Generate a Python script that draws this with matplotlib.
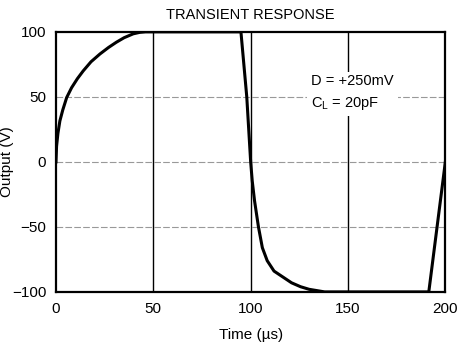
import matplotlib
matplotlib.use("Agg")
import matplotlib.pyplot as plt

plt.rcParams['font.family'] = ['Liberation Sans', 'DejaVu Sans']

# curve (time in us, output in V)
time_us = [0, 0.3, 1, 2, 3.5, 5.5, 8, 11, 14, 18, 22.6, 27, 31, 35, 39.7, 43, 46, 95,
           98, 100, 100.8, 102, 104, 106, 108.5, 112, 117, 121, 125.6, 130, 134, 138, 191.5, 200]
output_v = [0, 12, 22, 31.5, 40, 49.5, 57, 64, 70, 77, 83, 88, 92, 95.5, 98.5, 99.6, 100, 100,
            50, 0, -14.6, -30, -50, -66, -76, -84, -89, -93, -96, -98, -99, -100, -100, 0]

x_ticks = [0, 50, 100, 150, 200]
y_ticks = [-100, -50, 0, 50, 100]

fig = plt.figure(figsize=(4.57, 3.5), dpi=100)
ax = fig.add_axes([0.1225, 0.166, 0.852, 0.743])

for x in x_ticks[1:-1]:
    ax.axvline(x, color='black', lw=1.0, zorder=1)
for y in y_ticks[1:-1]:
    ax.axhline(y, color='#999999', lw=0.8, ls=(0, (6, 2)), zorder=1)

ax.plot(time_us, output_v, color='black', lw=2.2, zorder=3)

ax.set_xlim(0, 200)
ax.set_ylim(-100, 100)
ax.set_xticks(x_ticks)
ax.set_yticks(y_ticks)
ax.set_yticklabels(['\u2212100', '\u221250', '0', '50', '100'])
ax.tick_params(length=0, labelsize=11, pad=7)
for s in ax.spines.values():
    s.set_linewidth(1.6)

ax.set_xlabel('Time (\u00b5s)', fontsize=11, labelpad=9)
ax.set_ylabel('Output (V)', fontsize=11)
ax.yaxis.set_label_coords(-0.107, 0.5)
ax.set_title('TRANSIENT RESPONSE', fontsize=10.5, pad=9)

ax.text(131, 53, 'D = +250mV\nC$_\\mathregular{L}$ = 20pF', fontsize=10.5, ha='left',
        va='center', linespacing=1.55, zorder=2,
        bbox=dict(facecolor='white', edgecolor='none', pad=3))

fig.savefig('out.png', dpi=100)
